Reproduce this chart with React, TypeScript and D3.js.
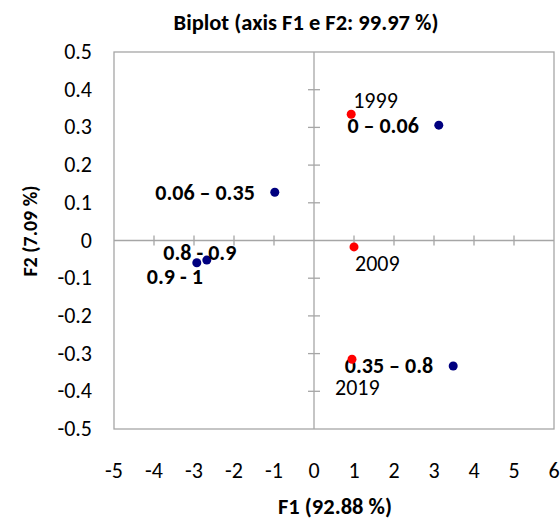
import React from "react";
import * as d3 from "d3";

const obsNames = ["1999", "2009", "2019"];
const obsF1 = [0.93, 1.0, 0.95];
const obsF2 = [0.335, -0.017, -0.315];

const varNames = ["0 – 0.06", "0.06 – 0.35", "0.35 – 0.8", "0.8 - 0.9", "0.9 - 1"];
const varF1 = [3.12, -0.98, 3.48, -2.68, -2.93];
const varF2 = [0.306, 0.128, -0.333, -0.052, -0.059];

const xTicks = [-5, -4, -3, -2, -1, 0, 1, 2, 3, 4, 5, 6];
const yTicks = [0.5, 0.4, 0.3, 0.2, 0.1, 0, -0.1, -0.2, -0.3, -0.4, -0.5];

const title = "Biplot (axis F1 e F2: 99.97 %)";
const xTitle = "F1 (92.88 %)";
const yTitle = "F2 (7.09 %)";

// label placement (px offsets, anchor)
const obsLabelPos: Record<string, [number, number, string]> = {
  "1999": [2, -6, "start"],
  "2009": [1, 24, "start"],
  "2019": [-17, 36, "start"],
};
const varLabelPos: Record<string, [number, number, string]> = {
  "0 – 0.06": [-20, 8, "end"],
  "0.06 – 0.35": [-20, 8, "end"],
  "0.35 – 0.8": [-20, 7, "end"],
  "0.8 - 0.9": [-7, 0, "middle"],
  "0.9 - 1": [-22, 21, "middle"],
};

const FONT = "Carlito, Lato, 'Open Sans', sans-serif";

export default function App() {
  const W = 560, H = 519;
  const left = 114, right = 554, top = 52, bottom = 429;
  const x = d3.scaleLinear().domain([-5, 6]).range([left, right]);
  const y = d3.scaleLinear().domain([-0.5, 0.5]).range([bottom, top]);
  const grey = "#a6a6a6";
  const fs = 22;
  return (
    <svg width={W} height={H} style={{ position: "absolute", left: 0, top: 0, fontFamily: FONT }}>
      <rect x={0} y={0} width={W} height={H} fill="#fff" />
      <text x={306} y={30} textAnchor="middle" fontWeight="bold" fontSize={22.5}>{title}</text>
      <rect x={left} y={top} width={right - left} height={bottom - top} fill="none" stroke={grey} strokeWidth={1.3} />
      <line x1={x(0)} x2={x(0)} y1={top} y2={bottom} stroke={grey} strokeWidth={1.3} />
      <line x1={left} x2={right} y1={y(0)} y2={y(0)} stroke={grey} strokeWidth={1.3} />
      {xTicks.map((t) => (
        <g key={"xt" + t}>
          {t > -5 && t < 6 && t !== 0 && (
            <line x1={x(t)} x2={x(t)} y1={y(0) - 5} y2={y(0) + 5} stroke={grey} strokeWidth={1.3} />
          )}
          <text x={x(t)} y={478} textAnchor="middle" fontSize={fs}>{t}</text>
        </g>
      ))}
      {yTicks.map((t) => (
        <g key={"yt" + t}>
          {t > -0.5 && t < 0.5 && t !== 0 && (
            <line x1={x(0) - 6} x2={x(0) + 6} y1={y(t)} y2={y(t)} stroke={grey} strokeWidth={1.3} />
          )}
          <text x={92} y={y(t) + 7} textAnchor="end" fontSize={fs}>{t}</text>
        </g>
      ))}
      <text x={335} y={514} textAnchor="middle" fontWeight="bold" fontSize={22.5}>{xTitle}</text>
      <text transform={`translate(37,${231}) rotate(-90)`} textAnchor="middle" fontWeight="bold" fontSize={20}>{yTitle}</text>
      {varNames.map((n, i) => {
        const [dx, dy, anchor] = varLabelPos[n];
        return (
          <g key={n}>
            <circle cx={x(varF1[i])} cy={y(varF2[i])} r={4.5} fill="#00007f" />
            <text x={x(varF1[i]) + dx} y={y(varF2[i]) + dy} textAnchor={anchor as any} fontWeight="bold" fontSize={fs}>{n}</text>
          </g>
        );
      })}
      {obsNames.map((n, i) => {
        const [dx, dy, anchor] = obsLabelPos[n];
        return (
          <g key={n}>
            <circle cx={x(obsF1[i])} cy={y(obsF2[i])} r={4.5} fill="#ff0000" />
            <text x={x(obsF1[i]) + dx} y={y(obsF2[i]) + dy} textAnchor={anchor as any} fontSize={fs}>{n}</text>
          </g>
        );
      })}
    </svg>
  );
}
